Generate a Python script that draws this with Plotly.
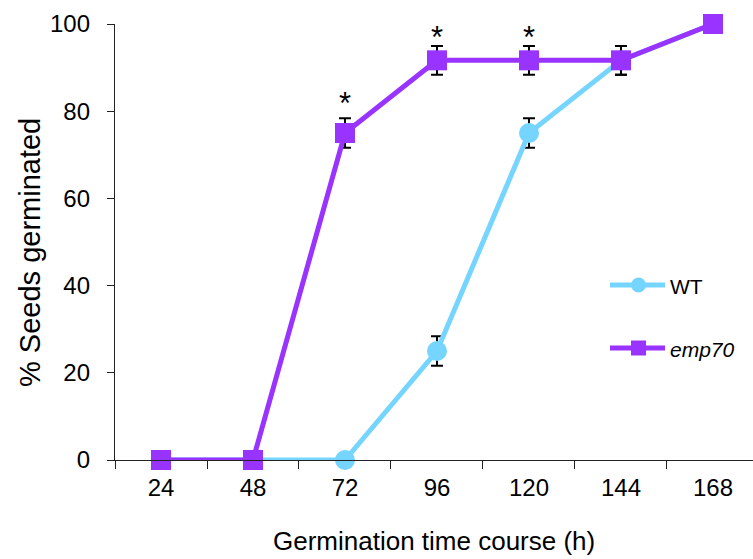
import plotly.graph_objects as go

# Germination time points (h)
hours = ["24", "48", "72", "96", "120", "144", "168"]

# % seeds germinated and standard errors
wt_pct = [0, 0, 0, 25, 75, 91.67, 100]
wt_err = [0, 0, 0, 3.4, 3.4, 3.3, 0]
emp70_pct = [0, 0, 75, 91.67, 91.67, 91.67, 100]
emp70_err = [0, 0, 3.4, 3.3, 3.3, 3.3, 0]

# Time points with a significant difference
sig_hours = ["72", "96", "120"]

WT_COLOR = "#75D5FF"
EMP_COLOR = "#9933FF"
FONT = "Liberation Sans, Arial, sans-serif"

W, H = 753, 559
ML, MR, MT, MB = 115, 0, 24, 99
PW, PH = W - ML - MR, H - MT - MB


def px_to_paper(px, py):
    return (px - ML) / PW, (H - MB - py) / PH


fig = go.Figure()

fig.add_trace(go.Scatter(
    x=hours, y=wt_pct, mode="lines+markers", name="WT",
    line=dict(color=WT_COLOR, width=5),
    marker=dict(symbol="circle", size=20, color=WT_COLOR),
    error_y=dict(type="data", array=wt_err, color="black", thickness=2, width=6),
    cliponaxis=False,
))
fig.add_trace(go.Scatter(
    x=hours, y=emp70_pct, mode="lines+markers", name="emp70",
    line=dict(color=EMP_COLOR, width=5),
    marker=dict(symbol="square", size=20, color=EMP_COLOR),
    error_y=dict(type="data", array=emp70_err, color="black", thickness=2, width=6),
    cliponaxis=False,
))

annotations = []

# Significance asterisks above the emp70 error bars (x given as category index)
star_shift = [15, 8, 8]
for h, dy in zip(sig_hours, star_shift):
    i = hours.index(h)
    annotations.append(dict(
        x=i, y=emp70_pct[i] + emp70_err[i], xref="x", yref="y",
        text="*", showarrow=False, xanchor="center", yanchor="middle", yshift=dy,
        font=dict(family=FONT, size=31, color="black"),
    ))

# Axis titles
xt, yt = px_to_paper(434, 541)
annotations.append(dict(
    x=xt, y=yt, xref="paper", yref="paper", text="Germination time course (h)",
    showarrow=False, xanchor="center", yanchor="middle",
    font=dict(family=FONT, size=26, color="black"),
))
xt, yt = px_to_paper(30, 253)
annotations.append(dict(
    x=xt, y=yt, xref="paper", yref="paper", text="% Seeds germinated",
    showarrow=False, xanchor="center", yanchor="middle", textangle=-90,
    font=dict(family=FONT, size=29, color="black"),
))

# Legend: line + marker + label
legend_items = [
    ("WT", WT_COLOR, "circle", 285),
    ("<i>emp70</i>", EMP_COLOR, "square", 348),
]
L0, L1 = 610, 665
shapes = []
for label, color, sym, py in legend_items:
    x0, y0 = px_to_paper(L0, py)
    x1, _ = px_to_paper(L1, py)
    shapes.append(dict(type="line", xref="paper", yref="paper", x0=x0, x1=x1, y0=y0, y1=y0,
                       line=dict(color=color, width=5)))
    cx = (L0 + L1) / 2 + 1
    r = 7.5
    a0, b0 = px_to_paper(cx - r, py + r)
    a1, b1 = px_to_paper(cx + r, py - r)
    shapes.append(dict(type="circle" if sym == "circle" else "rect", xref="paper", yref="paper",
                       x0=a0, x1=a1, y0=b0, y1=b1, fillcolor=color, line=dict(width=0)))
    tx, ty = px_to_paper(668, py + 1)
    annotations.append(dict(x=tx, y=ty, xref="paper", yref="paper", text=label, showarrow=False,
                            xanchor="left", yanchor="middle",
                            font=dict(family=FONT, size=21, color="black")))

fig.update_layout(
    width=W, height=H,
    margin=dict(l=ML, r=MR, t=MT, b=MB),
    paper_bgcolor="white", plot_bgcolor="white",
    showlegend=False,
    font=dict(family=FONT, size=24, color="black"),
    xaxis=dict(
        type="category", tickson="boundaries", range=[-0.5, 6.435],
        showline=True, linecolor="#222", linewidth=1.3,
        ticks="outside", ticklen=8, tickcolor="#222", tickwidth=1.3,
        showgrid=False, zeroline=False, ticklabelstandoff=6,
        tickfont=dict(family=FONT, size=24, color="black"),
    ),
    yaxis=dict(
        range=[0, 100], tickvals=[0, 20, 40, 60, 80, 100],
        showline=True, linecolor="#222", linewidth=1.3,
        ticks="outside", ticklen=7, tickcolor="#222", tickwidth=1.3,
        showgrid=False, zeroline=False, ticklabelstandoff=12,
        tickfont=dict(family=FONT, size=24, color="black"),
    ),
    shapes=shapes, annotations=annotations,
)

fig.write_html("out.html")
